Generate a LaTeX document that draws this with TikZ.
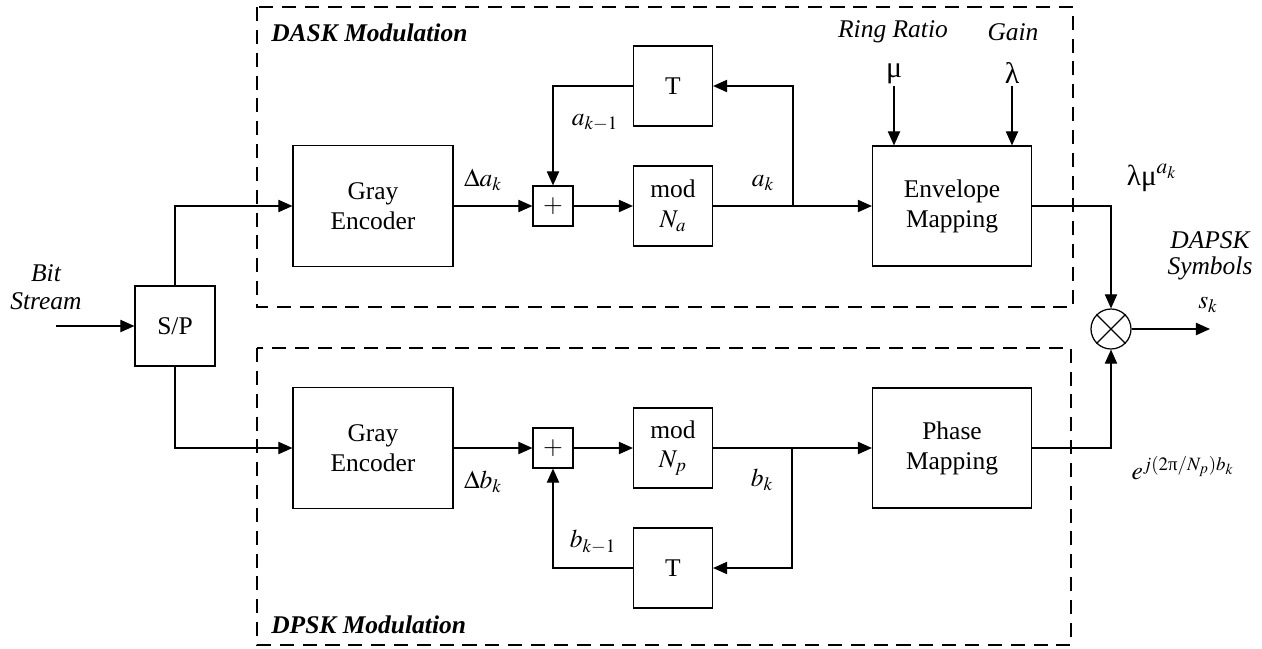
\documentclass[tikz,border=0pt]{standalone}
\usepackage{amsmath}
\usepackage{mathptmx}
\usepackage{fontspec}
\setmainfont{Liberation Serif}
\usetikzlibrary{arrows.meta,positioning}

\newcommand{\blkfont}{\fontsize{14.5}{17}\selectfont}
\newcommand{\grk}[1]{\text{\upshape #1}}

\tikzset{
  block/.style={draw, line width=0.7pt, minimum width=3.2cm, minimum height=2.42cm, align=center, font=\blkfont},
  smallblock/.style={draw, line width=0.7pt, minimum width=1.58cm, minimum height=1.6cm, align=center, font=\blkfont},
  adder/.style={draw, line width=0.7pt, minimum size=0.8cm, inner sep=0pt, font=\blkfont},
  mixer/.style={draw, circle, line width=0.7pt, minimum size=0.8cm, inner sep=0pt},
  wire/.style={line width=0.7pt, -{Triangle[length=8pt,width=7pt]}},
  plainwire/.style={line width=0.7pt},
  modframe/.style={draw, line width=0.6pt, dash pattern=on 8pt off 5pt},
  lbl/.style={font=\blkfont, inner sep=1pt},
  title/.style={font=\blkfont\bfseries\itshape, anchor=west, inner sep=0pt},
}

\begin{document}
\begin{tikzpicture}[x=0.02cm, y=-0.02cm]
  \useasboundingbox (0,0) rectangle (1262,649);

  % modulation frames
  \draw[modframe] (257,7) rectangle (1073,307);
  \draw[modframe] (257,348) rectangle (1071,645);
  \node[title] (dasktitle) at (271,33) {DASK Modulation};
  \node[title] (dpsktitle) at (271,625) {DPSK Modulation};

  % blocks
  \node[smallblock, minimum width=1.6cm] (sp) at (175,326) {S/P};
  \node[block] (grayA) at (373,206) {Gray\\Encoder};
  \node[block] (grayB) at (373,448) {Gray\\Encoder};
  \node[adder] (addA) at (553,206) {$+$};
  \node[adder] (addB) at (553,448) {$+$};
  \node[smallblock] (modA) at (673,206) {mod\\$N_{a}$};
  \node[smallblock] (modB) at (673,448) {mod\\$N_{p}$};
  \node[smallblock] (delayA) at (673,86) {T};
  \node[smallblock] (delayB) at (673,568) {T};
  \node[block, minimum width=3.18cm, minimum height=2.4cm] (envmap) at (952,206) {Envelope\\Mapping};
  \node[block, minimum width=3.18cm, minimum height=2.4cm] (phasemap) at (952,448) {Phase\\Mapping};
  \node[mixer] (mult) at (1111,329) {};
  \draw[plainwire] (mult.north west) -- (mult.south east);
  \draw[plainwire] (mult.north east) -- (mult.south west);

  % inputs of the envelope mapping
  \node[lbl, font=\blkfont\itshape] (ringratio) at (893,32) {Ring Ratio};
  \node[lbl, font=\blkfont\itshape] (gaintxt) at (1013,32) {Gain};
  \node[lbl, anchor=south, font=\fontsize{17}{17}\selectfont] (mu) at (894,86) {μ};
  \node[lbl, anchor=south, font=\fontsize{17}{17}\selectfont] (lambda) at (1012,86) {λ};
  \draw[wire] (mu) -- (mu |- envmap.north);
  \draw[wire] (lambda) -- (lambda |- envmap.north);

  % bit stream and S/P
  \node[lbl, font=\blkfont\itshape, align=center] (bitstream) at (46,287) {Bit\\[-1pt]Stream};
  \coordinate (bitin) at (56,326);
  \draw[wire] (bitin) -- (sp.west);
  \draw[wire] (sp.north) |- (grayA.west);
  \draw[wire] (sp.south) |- (grayB.west);

  % DASK branch
  \coordinate (brA) at (793,206);
  \draw[wire] (grayA.east) -- (addA.west);
  \draw[wire] (addA.east) -- (modA.west);
  \draw[wire] (modA.east) -- (envmap.west);
  \draw[wire] (brA) |- (delayA.east);
  \draw[wire] (delayA.west) -| (addA.north);
  \node[lbl] (dak) at (483,180) {$\Delta a_k$};
  \node[lbl] (akm) at (595,123) {$a_{k-1}$};
  \node[lbl] (ak) at (763,183) {$a_k$};

  % DPSK branch
  \coordinate (brB) at (792,448);
  \draw[wire] (grayB.east) -- (addB.west);
  \draw[wire] (addB.east) -- (modB.west);
  \draw[wire] (modB.east) -- (phasemap.west);
  \draw[wire] (brB) |- (delayB.east);
  \draw[wire] (delayB.west) -| (addB.south);
  \node[lbl] (dbk) at (483,482) {$\Delta b_k$};
  \node[lbl] (bkm) at (593,542) {$b_{k-1}$};
  \node[lbl] (bk) at (762,480) {$b_k$};

  % combining
  \coordinate (symout) at (1210,329);
  \draw[wire] (envmap.east) -| (mult.north);
  \draw[wire] (phasemap.east) -| (mult.south);
  \draw[wire] (mult.east) -- (symout);
  \node[lbl, font=\fontsize{16.5}{17}\selectfont] (amp) at (1152,178) {$\grk{λμ}^{a_k}$};
  \node[lbl] (phs) at (1183,468) {$e^{j(2\grk{π}/N_p)b_k}$};
  \node[lbl] (sk) at (1208,305) {$s_k$};
  \node[lbl, font=\blkfont\itshape, align=center] (dapsk) at (1210,256) {DAPSK\\[-2pt]Symbols};
\end{tikzpicture}
\end{document}
